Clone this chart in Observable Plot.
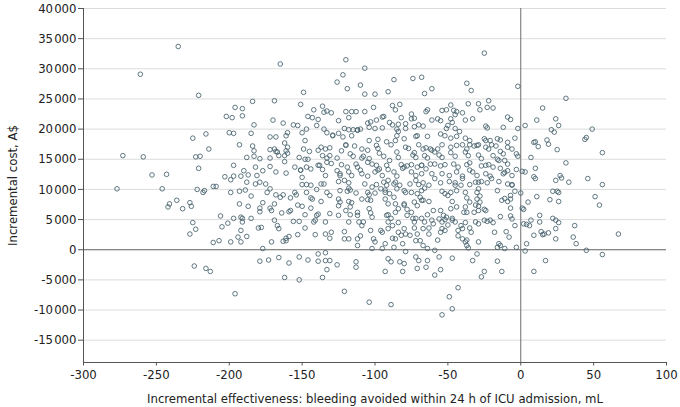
<!DOCTYPE html>
<html><head><meta charset="utf-8">
<script src="https://cdn.jsdelivr.net/npm/d3@7"></script>
<script src="https://cdn.jsdelivr.net/npm/@observablehq/plot@0.6"></script>
<style>body{margin:0;background:#fff}</style>
</head><body><div id="chart"></div>
<script>
// Incremental effectiveness (mL of bleeding avoided) and incremental cost (A$), read point by point
const pairs = [
// far left
[-235,33700],[-261,29100],[-221,25600],[-196,23600],[-202,22100],[-198,21900],[-225,18500],[-216,19200],[-200,19400],[-197,19300],[-214,16700],[-273,15600],[-259,15400],[-223,15400],[-220,15500],[-221,13500],[-197,14000],[-253,12400],[-243,12500],[-203,12100],[-197,12200],
[-199,11600],[-277,10100],[-246,10100],[-222,10000],[-218,9500],[-217,9800],[-211,10500],[-209,10500],[-199,9500],[-241,7600],[-242,7100],[-236,8200],[-232,6800],[-227,7800],[-226,7200],[-206,5600],[-197,5200],[-225,4500],[-223,3400],[-227,2600],[-205,3800],[-201,4400],[-211,1200],[-207,1500],[-199,1300],[-224,-2700],[-216,-3100],[-213,-3600],[-196,-7300],
// -195 to -127, upper
[-165,30800],[-126,27800],[-149,26100],[-184,24600],[-169,24700],[-151,24100],[-191,23400],[-191,22200],[-142,23200],[-136,23800],[-135,22800],[-133,23000],[-130,22700],[-146,22100],[-143,21900],[-139,21600],[-170,21500],[-163,21000],[-156,20700],[-153,20600],[-183,20700],[-147,20000],[-150,19400],[-140,20600],[-135,20000],[-133,19400],[-160,19400],[-161,18900],[-185,19300],[-172,18700],[-168,18700],[-129,18900],[-193,17400],[-184,17200],[-183,16400],[-162,17700],[-160,17000],[-172,16600],[-169,16700],[-168,16300],[-167,16200],[-161,16400],[-149,16700],[-145,16300],[-137,17000],[-134,16700],[-131,16900],[-188,15300],[-183,15500],[-179,15100],[-172,15200],[-166,15600],[-162,15600],[-160,16000],[-152,15300],[-148,15000],[-146,15000],[-136,15600],[-133,15200],[-131,15600],[-190,13100],[-182,13700],[-177,13100],[-172,13800],[-168,12900],[-162,14600],[-155,13700],[-151,13200],[-147,13700],[-144,13400],[-139,14000],[-136,13300],[-133,14500],[-130,14300],[-192,12200],[-187,12400],[-181,12300],[-161,12700],[-150,12000],[-134,12300],
// -195 to -127, lower
[-188,11200],[-182,10900],[-179,11200],[-175,10900],[-193,9700],[-189,9900],[-185,8900],[-174,9500],[-172,10100],[-168,9100],[-165,8700],[-163,9100],[-158,8600],[-155,9500],[-154,9100],[-150,10800],[-147,10800],[-147,9500],[-144,8600],[-143,8400],[-140,10000],[-137,10900],[-135,10900],[-133,9500],[-137,8000],[-193,7600],[-187,7200],[-179,6900],[-179,6300],[-177,7800],[-172,6900],[-171,6500],[-169,7600],[-164,6100],[-159,6300],[-153,7400],[-150,7200],[-148,5800],[-144,6900],[-140,5700],[-139,5900],[-131,6000],[-192,5400],[-191,5200],[-185,5200],[-191,4600],[-169,4900],[-167,4000],[-166,3500],[-180,3600],[-178,3700],[-156,4700],[-152,4700],[-148,3600],[-142,4600],[-134,4600],[-192,3200],[-194,2100],[-192,1300],[-188,2200],[-171,1300],[-161,1900],[-159,2200],[-163,1400],[-161,1500],[-153,2500],[-141,2500],[-134,2600],[-130,2900],[-131,1900],[-177,200],[-179,-1900],[-173,-1700],[-166,-1300],[-159,-2200],[-152,-1200],[-146,-1700],[-139,-700],[-134,-500],[-139,-1900],[-134,-1800],[-131,-1800],[-133,-3300],[-126,-2500],[-162,-4600],[-152,-5000],[-136,-4600],
// -127 to -59, upper
[-120,31500],[-107,30100],[-122,29000],[-110,27300],[-119,26700],[-107,25800],[-100,25800],[-91,26200],[-87,28200],[-74,28400],[-68,28600],[-66,25900],[-61,26700],[-88,23900],[-83,24100],[-86,23200],[-101,23600],[-120,22900],[-116,22900],[-113,22900],[-118,21900],[-107,22900],[-95,22000],[-94,22100],[-99,21500],[-103,21200],[-125,21400],[-105,21000],[-75,22500],[-73,21800],[-75,21700],[-65,22900],[-64,23200],[-61,21500],[-70,20700],[-82,21900],[-79,20900],[-84,20800],[-85,20000],[-90,21100],[-88,20700],[-95,20200],[-100,20100],[-104,20300],[-121,20100],[-118,19900],[-115,19900],[-112,19900],[-110,20000],[-125,19300],[-122,18700],[-116,18900],[-84,19600],[-85,18900],[-79,20100],[-73,20400],[-72,18800],[-71,18900],[-67,20500],[-64,18800],[-104,18100],[-98,18300],[-92,17900],[-86,18100],[-80,18400],[-120,17400],[-114,17200],[-123,16400],[-109,16700],[-99,17300],[-98,16800],[-89,17400],[-79,17000],[-77,16800],[-70,17400],[-67,16700],[-65,16900],[-62,16700],[-126,15200],[-117,15900],[-115,15500],[-109,15200],[-108,15500],[-104,15100],[-97,16000],[-94,15500],[-85,16200],[-84,15300],[-73,16100],[-72,15300],[-66,15600],[-64,15200],[-123,14100],[-119,13700],[-113,14200],[-112,13700],[-105,14500],[-102,14200],[-99,14000],[-97,13400],[-92,14000],[-91,13300],[-82,14100],[-80,13700],[-78,13900],[-75,14100],[-71,13700],[-68,14000],[-65,13400],[-62,14200],[-126,13100],[-124,12600],[-118,12900],[-116,12300],[-109,12600],[-105,12200],[-100,12900],[-95,12300],[-87,12900],[-85,12200],[-75,12900],[-72,12300],[-68,12600],[-61,12600],
// -127 to -59, lower
[-125,11300],[-121,11500],[-118,11100],[-124,9800],[-119,9700],[-118,10200],[-113,9400],[-125,8400],[-124,7900],[-125,7300],[-118,8000],[-116,7800],[-117,7100],[-120,6500],[-117,5800],[-109,8400],[-105,8300],[-105,9500],[-104,9100],[-100,9400],[-107,10900],[-102,10400],[-99,10800],[-96,10100],[-94,11200],[-92,10700],[-91,11500],[-87,10900],[-85,10100],[-93,9500],[-90,9300],[-87,8700],[-93,8400],[-91,7600],[-86,7600],[-84,6800],[-86,6200],[-80,7600],[-78,6700],[-75,6200],[-73,7900],[-71,7300],[-69,8700],[-67,8200],[-63,8000],[-75,9500],[-71,9300],[-68,9800],[-76,10900],[-70,10800],[-67,11100],[-63,10700],[-83,10700],[-80,9800],[-104,6800],[-103,6100],[-112,6200],[-112,5700],[-111,4600],[-108,4600],[-102,5400],[-118,4600],[-121,3000],[-121,1800],[-118,1800],[-112,1800],[-110,2300],[-112,700],[-103,3200],[-101,1800],[-100,1300],[-102,200],[-95,200],[-93,1000],[-95,2900],[-91,3500],[-91,4600],[-88,4000],[-91,5800],[-89,5200],[-84,2900],[-82,2400],[-86,1800],[-80,3500],[-79,2600],[-87,400],[-81,1000],[-79,-300],[-73,3600],[-71,2600],[-72,1500],[-73,4600],[-68,5200],[-66,4600],[-67,3500],[-63,2600],[-69,1500],[-67,700],[-64,200],[-78,5700],[-74,5200],[-64,5800],[-61,4900],[-60,4300],[-113,-2000],[-113,-2900],[-91,-1500],[-89,-2000],[-93,-3600],[-83,-2000],[-80,-2300],[-81,-3600],[-72,-1200],[-70,-1800],[-71,-3100],[-65,-2900],[-64,-1800],[-59,-4200],[-121,-6900],[-104,-8700],[-89,-9100],
// -59 to 5, upper
[-25,32600],[-37,27600],[-34,26400],[-2,27100],[-22,24700],[-48,24000],[-36,24200],[-29,24200],[-28,23200],[-23,23600],[-19,23500],[-54,23100],[-51,23200],[-46,23100],[-44,22900],[-45,22400],[-40,22700],[-48,21700],[-47,21100],[-38,21500],[-33,21700],[-9,22000],[-7,21600],[-57,21700],[-55,21400],[-51,20100],[-50,20600],[-45,20100],[-42,19600],[-24,20500],[-23,20200],[-12,20300],[-2,20100],[3,20600],[-55,19200],[-52,18900],[-48,18500],[-44,18800],[-38,18500],[-35,18100],[-30,17300],[-29,17400],[-25,18400],[-24,18100],[-21,18100],[-16,18400],[-20,17400],[-17,17200],[-14,18200],[-9,17800],[-4,18500],[-6,16700],[-9,17000],[9,17800],[-54,17400],[-57,16700],[-48,17000],[-44,17300],[-40,17400],[-37,16700],[-35,17400],[-32,17200],[-24,17000],[-22,16700],[-14,16300],[-12,15900],[-2,15500],[-3,15900],[7,15300],[-59,16200],[-56,15700],[-54,15300],[-48,16100],[-45,15500],[-38,16200],[-36,15600],[-29,15700],[-27,15100],[-19,15600],[-16,15000],[-11,14800],[-9,14200],[-59,14200],[-55,13900],[-52,14100],[-46,14200],[-43,13700],[-37,14100],[-35,14400],[-27,13900],[-22,14100],[-19,13700],[-14,13500],[-9,13100],[-3,13300],[-54,12600],[-49,12300],[-44,12900],[-40,12200],[-33,12900],[-30,12300],[-24,12600],[-21,12200],[-12,12600],[-6,12300],[3,12900],
// -59 to 5, lower
[-55,11100],[-49,11300],[-45,11100],[-41,10700],[-35,10800],[-31,11200],[-27,11300],[-23,11100],[-15,11300],[-9,10900],[-6,10800],[-54,9700],[-52,9300],[-48,9500],[-44,9800],[-38,9500],[-30,9500],[-29,10100],[-16,9800],[-7,9000],[-4,9700],[0,9400],[-13,8200],[-9,8000],[-7,8400],[-37,8600],[-35,7900],[-30,8400],[-47,8000],[-44,7100],[-48,6800],[-55,6500],[-53,5700],[-51,5400],[-38,7100],[-37,6200],[-32,6200],[-29,6500],[-25,6700],[-29,7200],[-28,7900],[-56,5100],[-54,4600],[-52,5000],[-47,4900],[-45,4600],[-41,4000],[-40,3500],[-38,4500],[-34,2900],[-31,4600],[-29,4300],[-25,4900],[-23,4700],[-19,4500],[-7,5600],[-6,5100],[-4,4000],[-10,3000],[-8,2100],[-54,3500],[-52,3200],[-43,2300],[-40,1800],[-38,1300],[-37,700],[-36,300],[-29,1300],[-15,1000],[-16,400],[-14,700],[-11,200],[-3,400],[-56,-1200],[-59,-100],[-47,-1400],[-33,-1800],[-30,-700],[-16,-1900],[-13,-3600],[-55,-3300],[-25,-3600],[-27,-4500],[-43,-6300],[-49,-7800],[-47,-9800],[-54,-10800],[9,-3600],
// right of zero
[31,25100],[15,23500],[11,21500],[24,21700],[26,20600],[21,19900],[23,19500],[49,20000],[44,18300],[45,18600],[10,17900],[18,18200],[19,17500],[12,17100],[25,16600],[56,16100],[31,14400],[1,13000],[10,13500],[9,12100],[10,11800],[24,11500],[27,12300],[28,11900],[33,11200],[46,11800],[56,10800],[22,9700],[25,9700],[26,9500],[11,8800],[5,7900],[20,8300],[26,8000],[51,8800],[54,7400],[1,6900],[2,6700],[7,4900],[2,4300],[4,4200],[6,4000],[13,5700],[13,4600],[22,5200],[24,4900],[26,4500],[24,3500],[37,4000],[9,2400],[14,3000],[16,2600],[15,2500],[19,2800],[24,1800],[36,2100],[38,1000],[67,2600],[4,1000],[3,-200],[45,-100],[56,-800],[17,-1800],
// dense core, further points estimated from the overlapping cluster
[-57,1600],[-55,2900],[-50,4100],[-47,5200],[-43,3200],[-39,6200],[-37,1600],[-35,3600],[-31,7400],[-28,8900],[-24,6500],[-21,4900],[-18,2900],[-14,5500],[-11,8500],[-7,6900],[-50,9000],[-45,10700],[-40,11800],[-35,13200],[-29,11200],[-24,14000],[-20,11800],[-15,14800],[-11,12800],[-6,10700],
[-96,3200],[-92,5700],[-88,1900],[-84,4500],[-80,7400],[-76,2400],[-72,5200],[-68,8200],[-63,3600],[-60,6500],[-93,9900],[-86,11200],[-79,9500],[-72,11500],[-66,10200],[-59,11800],[-98,13200],[-90,14800],[-81,13500],[-74,15700],[-68,14000],[-61,16500],
[-151,13200],[-144,10700],[-138,14000],[-131,9000],[-124,12300],[-117,9900],[-110,13200],[-103,8200],[-148,18100],[-139,16500],[-129,19000],[-120,17300],[-112,19800],[-105,16500],[-158,6500],[-141,4900],[-125,5700],[-109,4000]
];
const effectiveness = pairs.map(p => p[0]);
const cost = pairs.map(p => p[1]);
const xTicks = [-300, -250, -200, -150, -100, -50, 0, 50, 100];
const yTicks = [-15000, -10000, -5000, 0, 5000, 10000, 15000, 20000, 25000, 30000, 35000, 40000];
const xLabel = "Incremental effectiveness: bleeding avoided within 24 h of ICU admission, mL";
const yLabel = "Incremental cost, A$";

const points = effectiveness.map((x, i) => ({x, y: cost[i]}));
const fmt = v => (v < 0 ? "-" : "") + d3.format(",")(Math.abs(v)).replace(/,/g, "\u200A");
const font = "'DejaVu Sans Condensed','Liberation Sans Narrow',sans-serif";

const chart = Plot.plot({
  width: 680, height: 407,
  marginLeft: 83, marginRight: 14, marginTop: 8, marginBottom: 45,
  style: {fontFamily: font, fontSize: "13px", color: "#222", background: "#fff"},
  x: {domain: [-300, 100]},
  y: {domain: [-18700, 40000]},
  marks: [
    Plot.gridY(yTicks, {stroke: "#dcdcdc", strokeOpacity: 1}),
    Plot.ruleY([0], {stroke: "#6e6e6e", strokeWidth: 1}),
    Plot.ruleX([0], {stroke: "#6e6e6e", strokeWidth: 1}),
    Plot.axisX(xTicks, {tickFormat: fmt, tickSize: 3.5, tickPadding: 4, stroke: "#555",
      label: xLabel, labelAnchor: "center", labelArrow: "none", labelOffset: 40, fontSize: 13}),
    Plot.axisY(yTicks, {tickFormat: fmt, tickSize: 5, tickPadding: 2, stroke: "#555",
      label: yLabel, labelAnchor: "center", labelArrow: "none", labelOffset: 76, fontSize: 13}),
    Plot.ruleX([-300], {stroke: "#555"}),
    Plot.ruleY([-18700], {stroke: "#555"}),
    Plot.dot(points, {x: "x", y: "y", r: 2.3, stroke: "#44606b", strokeWidth: 0.85, fill: "none"})
  ]
});
document.getElementById("chart").appendChild(chart);
</script>
</body></html>
